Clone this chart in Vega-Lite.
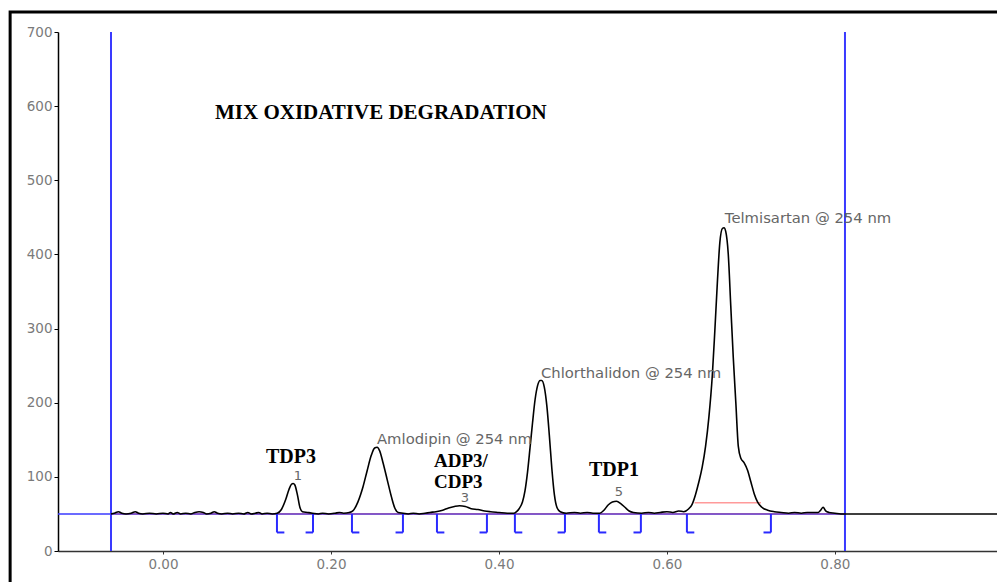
{
  "$schema": "https://vega.github.io/schema/vega-lite/v6.json",
  "width": 939,
  "height": 519,
  "autosize": {"type": "none"},
  "padding": {"left": 58, "top": 32, "right": 0, "bottom": 31},
  "background": "white",
  "config": {"view": {"stroke": null}},
  "datasets": {
    "signal": [
      {"t": -0.062, "v": 50}, {"t": -0.058, "v": 51}, {"t": -0.053, "v": 53}, {"t": -0.049, "v": 51},
      {"t": -0.044, "v": 50}, {"t": -0.038, "v": 51}, {"t": -0.033, "v": 53}, {"t": -0.029, "v": 51},
      {"t": -0.024, "v": 50}, {"t": -0.016, "v": 51}, {"t": -0.008, "v": 50}, {"t": 0.0, "v": 51},
      {"t": 0.006, "v": 50}, {"t": 0.009, "v": 52}, {"t": 0.012, "v": 50}, {"t": 0.017, "v": 52},
      {"t": 0.021, "v": 50}, {"t": 0.027, "v": 51}, {"t": 0.033, "v": 50}, {"t": 0.038, "v": 52},
      {"t": 0.043, "v": 53}, {"t": 0.048, "v": 52}, {"t": 0.052, "v": 50}, {"t": 0.057, "v": 51},
      {"t": 0.061, "v": 53}, {"t": 0.065, "v": 51}, {"t": 0.07, "v": 50}, {"t": 0.077, "v": 51},
      {"t": 0.083, "v": 50}, {"t": 0.09, "v": 51}, {"t": 0.096, "v": 50}, {"t": 0.101, "v": 52},
      {"t": 0.105, "v": 50}, {"t": 0.11, "v": 51}, {"t": 0.114, "v": 52}, {"t": 0.118, "v": 50},
      {"t": 0.124, "v": 51}, {"t": 0.13, "v": 50},
      {"t": 0.136, "v": 51}, {"t": 0.141, "v": 56}, {"t": 0.146, "v": 69}, {"t": 0.15, "v": 83},
      {"t": 0.153, "v": 90}, {"t": 0.155, "v": 91}, {"t": 0.157, "v": 89}, {"t": 0.16, "v": 76},
      {"t": 0.163, "v": 59}, {"t": 0.166, "v": 53}, {"t": 0.172, "v": 52}, {"t": 0.178, "v": 51},
      {"t": 0.185, "v": 50}, {"t": 0.19, "v": 51}, {"t": 0.197, "v": 50}, {"t": 0.205, "v": 51},
      {"t": 0.21, "v": 52}, {"t": 0.215, "v": 51}, {"t": 0.222, "v": 52}, {"t": 0.226, "v": 54},
      {"t": 0.232, "v": 66}, {"t": 0.238, "v": 86}, {"t": 0.243, "v": 108}, {"t": 0.248, "v": 129},
      {"t": 0.252, "v": 139}, {"t": 0.255, "v": 140}, {"t": 0.258, "v": 135}, {"t": 0.262, "v": 119},
      {"t": 0.267, "v": 96}, {"t": 0.272, "v": 73}, {"t": 0.276, "v": 58}, {"t": 0.28, "v": 52},
      {"t": 0.286, "v": 51}, {"t": 0.292, "v": 50}, {"t": 0.298, "v": 51}, {"t": 0.305, "v": 50},
      {"t": 0.312, "v": 51}, {"t": 0.318, "v": 52}, {"t": 0.325, "v": 53}, {"t": 0.333, "v": 55},
      {"t": 0.34, "v": 58}, {"t": 0.347, "v": 60}, {"t": 0.353, "v": 61}, {"t": 0.36, "v": 60},
      {"t": 0.367, "v": 57}, {"t": 0.375, "v": 56}, {"t": 0.383, "v": 54}, {"t": 0.39, "v": 53},
      {"t": 0.4, "v": 52}, {"t": 0.41, "v": 51}, {"t": 0.418, "v": 51},
      {"t": 0.421, "v": 53}, {"t": 0.424, "v": 57}, {"t": 0.428, "v": 66}, {"t": 0.431, "v": 81},
      {"t": 0.434, "v": 106}, {"t": 0.437, "v": 139}, {"t": 0.44, "v": 173}, {"t": 0.443, "v": 204},
      {"t": 0.446, "v": 223}, {"t": 0.449, "v": 230}, {"t": 0.451, "v": 230}, {"t": 0.454, "v": 221},
      {"t": 0.457, "v": 196}, {"t": 0.46, "v": 156}, {"t": 0.463, "v": 111}, {"t": 0.466, "v": 76},
      {"t": 0.469, "v": 59}, {"t": 0.473, "v": 53}, {"t": 0.48, "v": 51}, {"t": 0.49, "v": 52},
      {"t": 0.497, "v": 51}, {"t": 0.505, "v": 52}, {"t": 0.512, "v": 51}, {"t": 0.52, "v": 51},
      {"t": 0.525, "v": 55}, {"t": 0.53, "v": 62}, {"t": 0.535, "v": 66}, {"t": 0.54, "v": 67},
      {"t": 0.545, "v": 64}, {"t": 0.55, "v": 59}, {"t": 0.555, "v": 54}, {"t": 0.56, "v": 52},
      {"t": 0.57, "v": 51}, {"t": 0.578, "v": 52}, {"t": 0.585, "v": 51}, {"t": 0.592, "v": 52},
      {"t": 0.6, "v": 53}, {"t": 0.607, "v": 52}, {"t": 0.614, "v": 54}, {"t": 0.62, "v": 53},
      {"t": 0.626, "v": 57}, {"t": 0.63, "v": 63}, {"t": 0.634, "v": 76}, {"t": 0.638, "v": 93},
      {"t": 0.642, "v": 113}, {"t": 0.646, "v": 141}, {"t": 0.65, "v": 181}, {"t": 0.654, "v": 236},
      {"t": 0.657, "v": 296}, {"t": 0.66, "v": 361}, {"t": 0.663, "v": 416}, {"t": 0.666, "v": 435},
      {"t": 0.668, "v": 436}, {"t": 0.67, "v": 431}, {"t": 0.673, "v": 401}, {"t": 0.676, "v": 331},
      {"t": 0.679, "v": 261}, {"t": 0.682, "v": 201}, {"t": 0.685, "v": 141}, {"t": 0.688, "v": 125},
      {"t": 0.692, "v": 119}, {"t": 0.696, "v": 109}, {"t": 0.7, "v": 93}, {"t": 0.704, "v": 77},
      {"t": 0.708, "v": 66}, {"t": 0.713, "v": 59}, {"t": 0.72, "v": 55}, {"t": 0.728, "v": 53},
      {"t": 0.736, "v": 52}, {"t": 0.745, "v": 51}, {"t": 0.752, "v": 52}, {"t": 0.76, "v": 51},
      {"t": 0.767, "v": 52}, {"t": 0.775, "v": 52}, {"t": 0.78, "v": 52}, {"t": 0.783, "v": 55},
      {"t": 0.786, "v": 59}, {"t": 0.789, "v": 54}, {"t": 0.793, "v": 52}, {"t": 0.8, "v": 51},
      {"t": 0.807, "v": 50}, {"t": 0.812, "v": 50}, {"t": 0.9, "v": 50}, {"t": 0.993, "v": 50}
    ],
    "brackets": [
      {"x": 0.1357, "x2": 0.1357, "y": 50, "y2": 25}, {"x": 0.1357, "x2": 0.1445, "y": 25, "y2": 25},
      {"x": 0.1786, "x2": 0.1786, "y": 50, "y2": 25}, {"x": 0.1786, "x2": 0.1698, "y": 25, "y2": 25},
      {"x": 0.225, "x2": 0.225, "y": 50, "y2": 25}, {"x": 0.225, "x2": 0.2338, "y": 25, "y2": 25},
      {"x": 0.2857, "x2": 0.2857, "y": 50, "y2": 25}, {"x": 0.2857, "x2": 0.2769, "y": 25, "y2": 25},
      {"x": 0.3262, "x2": 0.3262, "y": 50, "y2": 25}, {"x": 0.3262, "x2": 0.335, "y": 25, "y2": 25},
      {"x": 0.3857, "x2": 0.3857, "y": 50, "y2": 25}, {"x": 0.3857, "x2": 0.3769, "y": 25, "y2": 25},
      {"x": 0.419, "x2": 0.419, "y": 50, "y2": 25}, {"x": 0.419, "x2": 0.4278, "y": 25, "y2": 25},
      {"x": 0.4786, "x2": 0.4786, "y": 50, "y2": 25}, {"x": 0.4786, "x2": 0.4698, "y": 25, "y2": 25},
      {"x": 0.519, "x2": 0.519, "y": 50, "y2": 25}, {"x": 0.519, "x2": 0.5278, "y": 25, "y2": 25},
      {"x": 0.569, "x2": 0.569, "y": 50, "y2": 25}, {"x": 0.569, "x2": 0.5602, "y": 25, "y2": 25},
      {"x": 0.6238, "x2": 0.6238, "y": 50, "y2": 25}, {"x": 0.6238, "x2": 0.6326, "y": 25, "y2": 25},
      {"x": 0.7238, "x2": 0.7238, "y": 50, "y2": 25}, {"x": 0.7238, "x2": 0.715, "y": 25, "y2": 25}
    ],
    "vlines": [{"x": -0.0619}, {"x": 0.812}],
    "hline": [{"x": -0.125, "x2": 0.812, "y": 50}],
    "redline": [{"x": -0.062, "x2": 0.812, "y": 50}],
    "pinkline": [{"x": 0.633, "x2": 0.712, "y": 65}],
    "frame": [{"x": -0.182, "x2": 1.2, "y": 727, "y2": -80}],
    "greyLabels": [
      {"x": 0.2548, "y": 149.7, "label": "Amlodipin @ 254 nm"},
      {"x": 0.45, "y": 238.7, "label": "Chlorthalidon @ 254 nm"},
      {"x": 0.669, "y": 447.8, "label": "Telmisartan @ 254 nm"}
    ],
    "numLabels": [
      {"x": 0.1607, "y": 101.2, "label": "1"},
      {"x": 0.3595, "y": 71.5, "label": "3"},
      {"x": 0.5429, "y": 79.6, "label": "5"}
    ],
    "boldLabels": [
      {"x": 0.1524, "y": 126.8, "label": "TDP3", "align": "center", "size": 20},
      {"x": 0.3226, "y": 121, "label": "ADP3/", "align": "left", "size": 19},
      {"x": 0.3226, "y": 93.6, "label": "CDP3", "align": "left", "size": 19},
      {"x": 0.5369, "y": 109.3, "label": "TDP1", "align": "center", "size": 20},
      {"x": 0.0619, "y": 590.8, "label": "MIX OXIDATIVE DEGRADATION", "align": "left", "size": 21}
    ]
  },
  "layer": [
    {
      "data": {"name": "frame"},
      "mark": {"type": "rect", "fill": null, "stroke": "black", "strokeWidth": 3, "clip": false},
      "encoding": {
        "x": {"field": "x", "type": "quantitative", "scale": {"domain": [-0.125, 0.993], "nice": false, "zero": false},
          "axis": {"values": [0, 0.2, 0.4, 0.6, 0.8], "format": ".2f", "title": null, "grid": false,
            "domainColor": "#333", "domainWidth": 1.5, "tickColor": "#333", "tickSize": 3,
            "labelColor": "#7a7a7a", "labelFont": "DejaVu Sans", "labelFontSize": 13.5, "labelPadding": 3}},
        "x2": {"field": "x2"},
        "y": {"field": "y", "type": "quantitative", "scale": {"domain": [0, 700], "nice": false},
          "axis": {"values": [0, 100, 200, 300, 400, 500, 600, 700], "title": null, "grid": false,
            "domainColor": "black", "domainWidth": 1.5, "tickColor": "black", "tickSize": 4,
            "labelColor": "#7a7a7a", "labelFont": "DejaVu Sans", "labelFontSize": 13.5, "labelPadding": 2}},
        "y2": {"field": "y2"}
      }
    },
    {
      "data": {"name": "vlines"},
      "mark": {"type": "rule", "color": "#3a3aff", "strokeWidth": 2},
      "encoding": {"x": {"field": "x", "type": "quantitative"}}
    },
    {
      "data": {"name": "hline"},
      "mark": {"type": "rule", "color": "#3a3aff", "strokeWidth": 1.5},
      "encoding": {"x": {"field": "x", "type": "quantitative"}, "x2": {"field": "x2"}, "y": {"field": "y", "type": "quantitative"}}
    },
    {
      "data": {"name": "redline"},
      "mark": {"type": "rule", "color": "#d02020", "strokeWidth": 1, "opacity": 0.5},
      "encoding": {"x": {"field": "x", "type": "quantitative"}, "x2": {"field": "x2"}, "y": {"field": "y", "type": "quantitative"}}
    },
    {
      "data": {"name": "pinkline"},
      "mark": {"type": "rule", "color": "#ff9a9a", "strokeWidth": 1.5},
      "encoding": {"x": {"field": "x", "type": "quantitative"}, "x2": {"field": "x2"}, "y": {"field": "y", "type": "quantitative"}}
    },
    {
      "data": {"name": "brackets"},
      "mark": {"type": "rule", "color": "#2a2aff", "strokeWidth": 2},
      "encoding": {
        "x": {"field": "x", "type": "quantitative"}, "x2": {"field": "x2"},
        "y": {"field": "y", "type": "quantitative"}, "y2": {"field": "y2"}
      }
    },
    {
      "data": {"name": "signal"},
      "mark": {"type": "line", "color": "black", "strokeWidth": 1.6, "interpolate": "monotone", "clip": true},
      "encoding": {"x": {"field": "t", "type": "quantitative"}, "y": {"field": "v", "type": "quantitative"}}
    },
    {
      "data": {"name": "greyLabels"},
      "mark": {"type": "text", "align": "left", "baseline": "middle", "font": "DejaVu Sans", "fontSize": 14.8, "color": "#666"},
      "encoding": {"x": {"field": "x", "type": "quantitative"}, "y": {"field": "y", "type": "quantitative"}, "text": {"field": "label"}}
    },
    {
      "data": {"name": "numLabels"},
      "mark": {"type": "text", "align": "center", "baseline": "middle", "font": "DejaVu Sans", "fontSize": 13, "color": "#666"},
      "encoding": {"x": {"field": "x", "type": "quantitative"}, "y": {"field": "y", "type": "quantitative"}, "text": {"field": "label"}}
    },
    {
      "data": {"name": "boldLabels"},
      "transform": [{"filter": "datum.align == 'center'"}],
      "mark": {"type": "text", "align": "center", "baseline": "middle", "font": "Liberation Serif", "fontWeight": "bold", "color": "black"},
      "encoding": {"x": {"field": "x", "type": "quantitative"}, "y": {"field": "y", "type": "quantitative"}, "text": {"field": "label"},
        "size": {"field": "size", "type": "quantitative", "scale": null}}
    },
    {
      "data": {"name": "boldLabels"},
      "transform": [{"filter": "datum.align == 'left'"}],
      "mark": {"type": "text", "align": "left", "baseline": "middle", "font": "Liberation Serif", "fontWeight": "bold", "color": "black"},
      "encoding": {"x": {"field": "x", "type": "quantitative"}, "y": {"field": "y", "type": "quantitative"}, "text": {"field": "label"},
        "size": {"field": "size", "type": "quantitative", "scale": null}}
    }
  ]
}
